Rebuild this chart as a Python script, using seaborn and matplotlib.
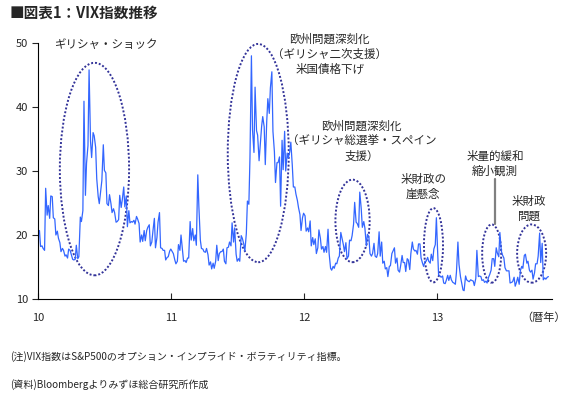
import numpy as np
import pandas as pd
import seaborn as sns
import matplotlib
matplotlib.use('Agg')
import matplotlib.pyplot as plt
from matplotlib.patches import Ellipse

# VIX指数（火曜・金曜の値を図から読み取り）
v2010 = [
    20.7, 18.2, 18.3, 17.9, 17.6, 27.3, 23.1, 24.6,  # 1月
    22.6, 26.1, 26.0, 22.7, 22.5, 20.0, 20.6, 19.5,  # 2月
    18.8, 17.4, 17.9, 17.6, 16.7, 16.9, 16.4, 17.8,  # 3月
    17.6, 17.0, 16.2, 16.1, 16.2, 18.4, 16.3, 16.6, 22.8, 22.1,  # 4月
    23.8, 40.9, 26.2, 31.2, 34.0, 45.8, 34.6, 32.1,  # 5月
    36.0, 35.5, 33.7, 28.8, 26.0, 24.9, 27.0, 28.5,  # 6月
    34.1, 30.1, 29.7, 24.9, 24.6, 26.3, 24.9, 23.5, 24.1, 23.5,  # 7月
    22.0, 22.1, 22.4, 26.2, 24.3, 25.5, 27.5, 24.4,  # 8月
    26.1, 21.3, 23.8, 21.9, 22.1, 22.0, 22.3, 21.7,  # 9月
    22.9, 22.5, 21.8, 18.9, 20.0, 19.0, 20.7, 19.1, 20.7, 21.2,  # 10月
    21.6, 18.3, 18.9, 20.6, 22.6, 18.0, 19.6, 22.0,  # 11月
    23.5, 18.0, 17.9, 17.6, 17.6, 16.1, 16.5, 16.6, 17.5, 17.8,  # 12月
]
v2011 = [
    17.4, 17.1, 16.1, 15.5, 15.9, 18.5, 17.6, 20.0,
    17.6, 15.9, 16.0, 15.7, 16.4, 16.4, 22.1, 19.2,
    21.0, 19.1, 20.0, 18.4, 29.4, 24.4, 19.2, 17.9,
    17.8, 17.4, 17.3, 17.9, 16.9, 15.3, 15.8, 14.7, 15.6, 14.8,
    15.9, 18.4, 16.0, 17.1, 17.4, 17.4, 17.8, 15.9,
    15.5, 18.0, 18.1, 18.9, 18.3, 21.9, 18.9, 21.1,
    17.0, 15.9, 16.3, 15.9, 19.9, 19.5, 18.6, 17.5, 20.2, 25.3,
    24.8, 32.0, 48.0, 36.4, 32.9, 43.1, 36.3, 35.6,
    31.6, 33.9, 37.0, 38.5, 36.9, 31.0, 37.8, 41.3, 39.0, 43.0,
    45.5, 36.2, 33.0, 28.2, 31.3, 31.3, 32.2, 24.5,
    34.8, 30.2, 36.2, 30.0, 32.8, 32.0, 33.0, 34.5,
    30.9, 27.5, 27.5, 26.4, 25.4, 24.3, 23.2, 20.7, 22.7, 23.4,
]
v2012 = [
    23.0, 20.6, 21.1, 20.5, 22.2, 18.3, 19.6, 18.5,
    19.4, 17.1, 18.0, 20.8, 19.5, 17.8, 18.2, 17.3,
    18.2, 17.3, 20.9, 17.1, 14.8, 14.5, 15.1, 14.8, 15.6, 15.5,
    16.4, 16.7, 20.4, 19.6, 18.5, 17.4, 18.8, 16.3,
    16.7, 19.2, 19.1, 19.9, 21.7, 25.1, 22.0, 21.8,
    21.2, 26.7, 24.1, 21.2, 22.1, 21.1, 18.3, 20.1, 19.7, 17.1,
    16.7, 17.1, 18.7, 16.7, 16.5, 17.1, 20.5, 16.7,
    18.9, 15.6, 15.9, 14.7, 14.9, 13.5, 15.1, 15.2, 17.1, 17.5,
    18.0, 15.6, 16.4, 14.5, 14.2, 15.2, 16.8, 15.7,
    15.7, 14.3, 16.3, 16.1, 14.6, 17.1, 18.9, 17.8,
    17.5, 17.6, 17.0, 18.6, 18.6, 16.4, 15.6, 15.1, 15.9, 15.9,
    16.5, 15.9, 15.6, 17.0, 16.0, 17.8, 18.5, 22.7,
]
v2013 = [
    18.0, 13.8, 13.6, 13.4, 13.6, 12.5, 12.4, 12.9,
    13.7, 12.9, 13.7, 13.0, 12.6, 12.5, 12.3, 14.2,
    18.9, 15.4, 13.5, 12.6, 11.4, 11.3, 13.6, 13.0, 12.8, 12.7,
    13.0, 12.9, 12.8, 12.1, 13.2, 17.6, 13.5, 13.6,
    13.5, 12.9, 13.0, 12.6, 12.8, 12.5, 13.4, 13.8, 14.5, 16.3,
    16.3, 15.1, 18.0, 17.2, 16.6, 20.4, 17.5, 16.9,
    16.4, 14.9, 14.4, 14.4, 14.4, 12.5, 12.6, 12.7,
    13.4, 12.0, 12.7, 13.4, 12.3, 14.4, 15.1, 14.8, 16.8, 17.0,
    15.6, 15.9, 14.5, 14.2, 14.5, 13.1, 14.1, 15.5,
    15.5, 16.7, 20.3, 15.7, 18.7, 13.0, 13.3, 13.1,
    13.4, 13.5,
]
year_ticks = [10, 11, 12, 13]
year_labels = ['10', '11', '12', '13']

# 日付（火曜・金曜）
fri = pd.date_range('2010-01-08', '2013-11-01', freq='W-FRI')
tue = fri - pd.Timedelta(days=3)
dates = pd.DatetimeIndex(np.column_stack([tue.values, fri.values]).ravel())
df = pd.DataFrame({'date': dates, 'vix': v2010 + v2011 + v2012 + v2013})
df['t'] = df['date'].dt.year - 2000 + (df['date'].dt.dayofyear - 1) / 365

sns.set_style('ticks')
plt.rcParams['font.family'] = ['Noto Sans CJK JP', 'DejaVu Sans']

fig = plt.figure(figsize=(5.7, 3.93), dpi=100)
ax = fig.add_axes([38 / 570, 1 - 299 / 393, (552 - 38) / 570, (299 - 43) / 393])

sns.lineplot(data=df, x='t', y='vix', ax=ax, color='#3366FF', lw=0.9)

ax.set_xlim(10, 13.86)
ax.set_ylim(10, 50)
ax.set_xticks(year_ticks)
ax.set_xticklabels(year_labels)
ax.set_yticks([10, 20, 30, 40, 50])
ax.tick_params(axis='x', direction='in', length=4, pad=10, labelsize=8, width=0.8)
ax.tick_params(axis='y', direction='out', length=4, pad=3, labelsize=8, width=0.8)
ax.set_xlabel('')
ax.set_ylabel('')
for s in ['left', 'bottom']:
    ax.spines[s].set_color('black')
    ax.spines[s].set_linewidth(0.8)
sns.despine(ax=ax)

# 点線の楕円
for cx, cy, w, h in [(10.424, 30.3, 0.52, 33.2), (11.654, 32.8, 0.458, 34.1),
                     (12.362, 22.2, 0.257, 12.9), (12.97, 18.4, 0.143, 11.6),
                     (13.407, 17.1, 0.143, 9.1), (13.707, 17.1, 0.218, 9.1)]:
    ax.add_patch(Ellipse((cx, cy), w, h, fill=False, ec='#333399',
                         lw=1.4, ls=(0, (1.0, 1.0)), clip_on=False))

ax.plot([13.432, 13.432], [28.7, 21.65], color='#808080', lw=1.6)

fs = 8.3
ax.text(10.13, 49.7, 'ギリシャ・ショック', fontsize=fs, ha='left', va='center')
ax.text(12.19, 48.3, '欧州問題深刻化\n（ギリシャ二次支援）\n米国債格下げ', fontsize=fs,
        ha='center', va='center', linespacing=1.2, clip_on=False)
ax.text(12.43, 34.6, '欧州問題深刻化\n（ギリシャ総選挙・スペイン\n支援）', fontsize=fs,
        ha='center', va='center', linespacing=1.2)
ax.text(12.893, 27.5, '米財政の\n崖懸念', fontsize=fs, ha='center', va='center', linespacing=1.2)
ax.text(13.432, 31.1, '米量的緩和\n縮小観測', fontsize=fs, ha='center', va='center', linespacing=1.2)
ax.text(13.689, 24.1, '米財政\n問題', fontsize=fs, ha='center', va='center', linespacing=1.2)

fig.text(544 / 570, 1 - 318 / 393, '（暦年）', fontsize=8, ha='center', va='center')
fig.text(10 / 570, 1 - 13 / 393, '■図表1：VIX指数推移', fontsize=10.5, fontweight='bold',
         ha='left', va='center')
fig.text(10 / 570, 1 - 357 / 393, '(注)VIX指数はS&P500のオプション・インプライド・ボラティリティ指標。',
         fontsize=7.2, ha='left', va='center')
fig.text(10 / 570, 1 - 385 / 393, '(資料)Bloombergよりみずほ総合研究所作成',
         fontsize=7.2, ha='left', va='center')

fig.savefig('out.png', dpi=100)
